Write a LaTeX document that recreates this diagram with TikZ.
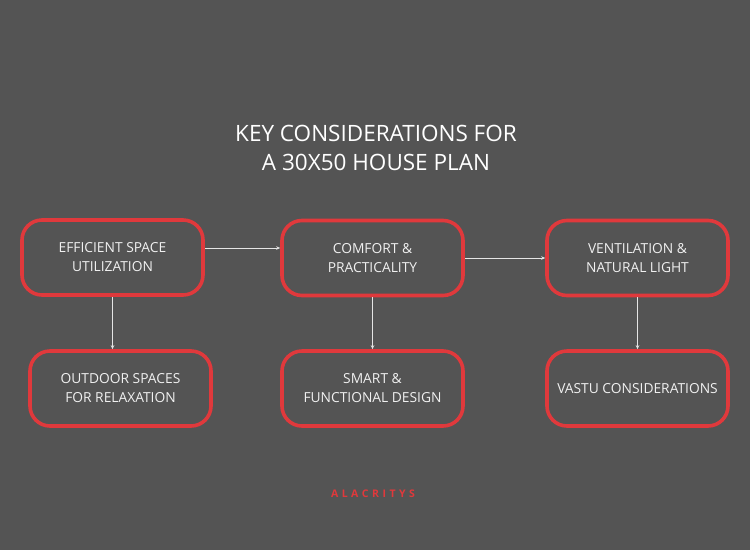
\documentclass[tikz,border=0pt]{standalone}
\usepackage{fontspec}
\setmainfont{Open Sans}
\usepackage{tikz}
\usetikzlibrary{arrows.meta}
\definecolor{bgGrey}{HTML}{545454}
\definecolor{boxRed}{HTML}{E0393C}
\tikzset{
	box/.style={draw=boxRed, line width=3.6pt, rounded corners=20pt, minimum width=181pt, minimum height=75pt, align=center, text=white!94!black, font=\fontsize{13.8}{19}\selectfont},
	link/.style={draw=white!90!black, line width=0.7pt, -{Stealth[length=4pt,width=3.5pt]}}
}

\begin{document}
\begin{tikzpicture}[x=1pt,y=-1pt]
	%background and title
	\fill [bgGrey] (0,0) rectangle (750,550);
	\node (title) at (376,148) [text=white, align=center, font=\fontsize{22.5}{29}\selectfont] {KEY CONSIDERATIONS FOR\\A 30X50 HOUSE PLAN};
	
	\node[box] (space) at (112.5,257.5) {EFFICIENT SPACE\\UTILIZATION};
	\node[box] (comfort) at (372.5,258) {COMFORT \&\\PRACTICALITY};
	\node[box] (light) at (637.5,258) {VENTILATION \&\\NATURAL LIGHT};
	\node[box] (outdoor) at (120.5,388.5) {OUTDOOR SPACES\\FOR RELAXATION};
	\node[box] (smart) at (372.5,388.5) {SMART \&\\FUNCTIONAL DESIGN};
	\node[box] (vastu) at (637.5,388.5) {VASTU CONSIDERATIONS};
	
	\draw[link] ([yshift=9.5]space.east) -- ([yshift=9.5]space.east -| comfort.west);
	\draw[link] (space.south) -- (space.south |- outdoor.north);
	\draw[link] (comfort.east) -- (light.west);
	\draw[link] (comfort.south) -- (smart.north);
	\draw[link] (light.south) -- (vastu.north);
	
	\node (brand) at (373,494) [text=boxRed, font=\fontsize{10.5}{12}\bfseries\selectfont] {A\,\,L\,\,A\,\,C\,\,R\,\,I\,\,T\,\,Y\,\,S};
\end{tikzpicture}
\end{document}
